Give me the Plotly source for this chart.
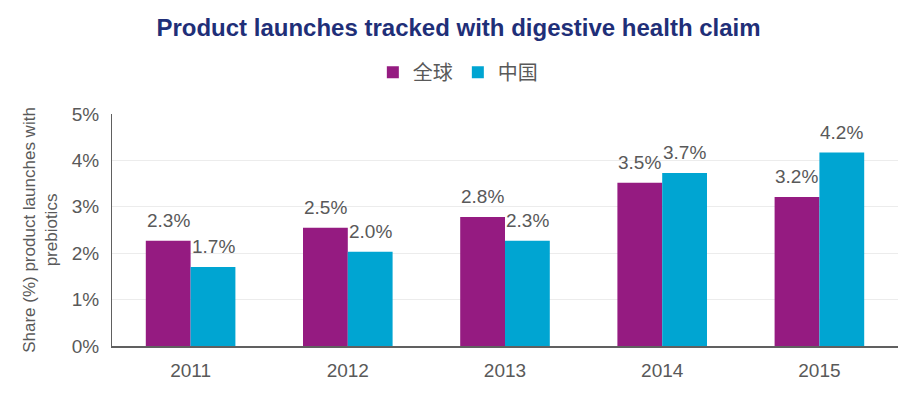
import plotly.graph_objects as go

years = ["2011", "2012", "2013", "2014", "2015"]
global_vals = [2.27, 2.55, 2.78, 3.52, 3.21]
china_vals = [1.70, 2.03, 2.27, 3.73, 4.17]
global_labels = ["2.3%", "2.5%", "2.8%", "3.5%", "3.2%"]
china_labels = ["1.7%", "2.0%", "2.3%", "3.7%", "4.2%"]
y_ticks = [0, 1, 2, 3, 4, 5]
y_tick_text = ["0%", "1%", "2%", "3%", "4%", "5%"]

PURPLE = "#951b81"
CYAN = "#00a5d2"
GRAY = "#595959"
FONT = "Liberation Sans, Arial, sans-serif"
CJK = "Liberation Sans, Noto Sans CJK SC, sans-serif"

fig = go.Figure()
fig.add_trace(go.Bar(x=years, y=global_vals, name="全球", marker_color=PURPLE, marker_line_width=0))
fig.add_trace(go.Bar(x=years, y=china_vals, name="中国", marker_color=CYAN, marker_line_width=0))

annotations = []
for labels, vals, shift in ((global_labels, global_vals, -22.5), (china_labels, china_vals, 22.5)):
    for i, (v, t) in enumerate(zip(vals, labels)):
        annotations.append(dict(x=i, y=v, text=t, xref="x", yref="y", showarrow=False,
                                xshift=shift, yanchor="bottom", yshift=8,
                                font=dict(family=FONT, size=19, color=GRAY)))

fig.update_layout(
    width=917, height=397,
    margin=dict(l=112, r=19, t=114, b=51),
    paper_bgcolor="white", plot_bgcolor="white",
    title=dict(text="<b>Product launches tracked with digestive health claim</b>",
               x=0.5, xanchor="center", y=0.93, yanchor="middle",
               font=dict(family=FONT, size=24, color="#1f2f78")),
    barmode="group", bargap=0.43, bargroupgap=0,
    legend=dict(orientation="h", x=0.44, xanchor="center", y=1.18, yanchor="middle",
                font=dict(family=CJK, size=20, color=GRAY),
                traceorder="normal"),
    annotations=annotations,
    font=dict(family=FONT, color=GRAY),
)
fig.update_xaxes(type="category", range=[-0.5, len(years) - 0.5],
                 showline=True, linecolor="#606060", linewidth=1.5,
                 ticks="outside", ticklen=6, tickcolor="rgba(0,0,0,0)",
                 tickfont=dict(family=FONT, size=19, color=GRAY))
fig.update_yaxes(range=[0, 5], tickvals=y_ticks, ticktext=y_tick_text,
                 showline=True, linecolor="#606060", linewidth=1, gridcolor="#ececec",
                 zeroline=False, ticks="outside", ticklen=8, tickcolor="rgba(0,0,0,0)",
                 tickfont=dict(family=FONT, size=19, color=GRAY),
                 title=dict(text="Share (%) product launches with<br>prebiotics", standoff=9,
                            font=dict(family=FONT, size=17, color=GRAY)))

fig.write_html("out.html", config={"displayModeBar": False},
               post_script="document.body.style.margin='0';")
